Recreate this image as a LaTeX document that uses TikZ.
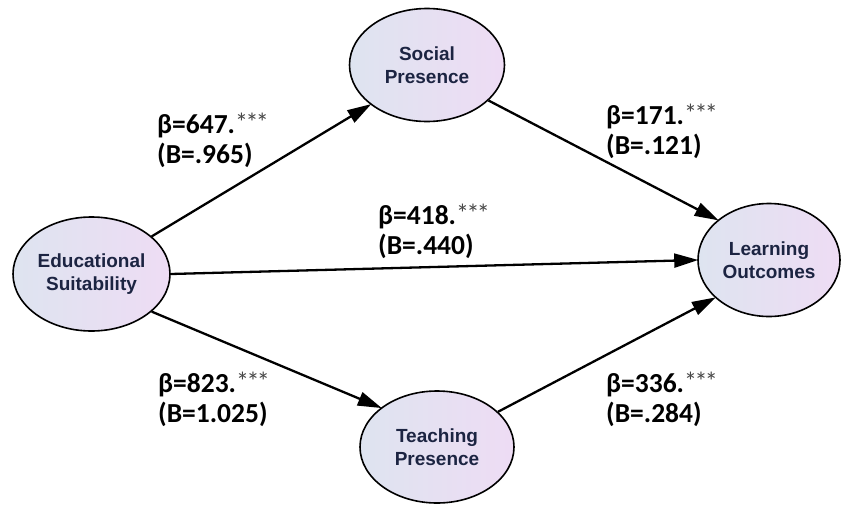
\documentclass[tikz,border=0pt]{standalone}
\usepackage{fontspec}
\setmainfont{Liberation Sans}
\newfontfamily\lblfont{Carlito}
\usetikzlibrary{arrows.meta,shapes.geometric}
\definecolor{nodetext}{RGB}{28,36,66}
\definecolor{fillL}{RGB}{222,228,240}
\definecolor{fillR}{RGB}{238,220,244}
\definecolor{stargray}{RGB}{70,70,70}
\tikzset{
  latent/.style={ellipse, draw=black, line width=1.6pt, left color=fillL, right color=fillR,
    text=nodetext, font=\fontsize{19}{23}\selectfont\bfseries, align=center, inner sep=0pt},
  path/.style={line width=2.3pt, -{Triangle[length=24pt,width=14pt]}, shorten >=-1pt},
  coef/.style={font=\lblfont\fontsize{27.5}{30}\selectfont\bfseries, align=left, anchor=west, inner sep=0pt, text=black}
}
\newcommand{\stars}{{\mdseries\color{stargray}\fontsize{26}{26}\selectfont\raisebox{2pt}{*\kern-2.5pt*\kern-2.5pt*}}}
\begin{document}
\begin{tikzpicture}[x=1pt,y=-1pt]
\useasboundingbox (0,0) rectangle (842,506);
\fill[white] (0,0) rectangle (842,506);
\node[latent, minimum width=157pt, minimum height=114pt] (edu) at (91.5,274) {Educational\\Suitability};
\node[latent, minimum width=155pt, minimum height=113pt] (soc) at (427,65) {Social\\Presence};
\node[latent, minimum width=142pt, minimum height=113pt] (learn) at (769,260) {Learning\\Outcomes};
\node[latent, minimum width=154pt, minimum height=112pt] (teach) at (437,447) {Teaching\\Presence};

\draw[path] (edu.32) -- (soc.215);
\draw[path] (soc.-30) -- (learn.142);
\draw[path] (edu.east) -- (learn.west);
\draw[path] (edu.-32) -- (teach.145);
\draw[path] (teach.30) -- (learn.-145);

\node[coef] (c1) at (157,140) {β=647.\stars\\(B=.965)};
\node[coef] (c2) at (606,131) {β=171.\stars\\(B=.121)};
\node[coef] (c3) at (378,231) {β=418.\stars\\(B=.440)};
\node[coef] (c4) at (158,399) {β=823.\stars\\(B=1.025)};
\node[coef] (c5) at (606,399) {β=336.\stars\\(B=.284)};
\end{tikzpicture}
\end{document}
